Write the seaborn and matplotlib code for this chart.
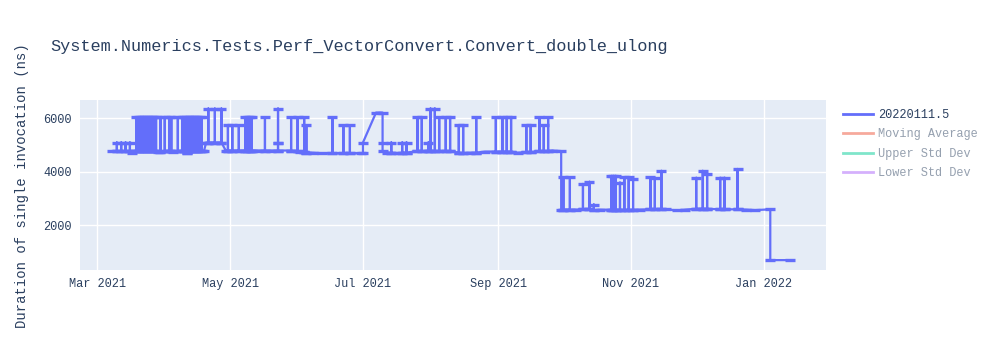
import matplotlib
matplotlib.use("Agg")
import matplotlib.pyplot as plt
import matplotlib.dates as mdates
from matplotlib.lines import Line2D
import pandas as pd
import seaborn as sns

title = "System.Numerics.Tests.Perf_VectorConvert.Convert_double_ulong"
y_label = "Duration of single invocation (ns)"
legend_labels = ["20220111.5", "Moving Average", "Upper Std Dev", "Lower Std Dev"]
legend_colors = ["#636efa", "#EF553B", "#00cc96", "#ab63fa"]
y_ticks = [2000, 4000, 6000]

run_dates = [
    "2021-03-08",
    "2021-03-10", "2021-03-10", "2021-03-10",
    "2021-03-12", "2021-03-12", "2021-03-12",
    "2021-03-14", "2021-03-14", "2021-03-14",
    "2021-03-16", "2021-03-16", "2021-03-16",
    "2021-03-17", "2021-03-18",
    "2021-03-19", "2021-03-19", "2021-03-19",
    "2021-03-20", "2021-03-20", "2021-03-20",
    "2021-03-21", "2021-03-21", "2021-03-21",
    "2021-03-22", "2021-03-22", "2021-03-22",
    "2021-03-23", "2021-03-23", "2021-03-23",
    "2021-03-24", "2021-03-24", "2021-03-24",
    "2021-03-25", "2021-03-25", "2021-03-25",
    "2021-03-26", "2021-03-26", "2021-03-26",
    "2021-03-27", "2021-03-27", "2021-03-27",
    "2021-03-28", "2021-03-28", "2021-03-28",
    "2021-03-29",
    "2021-03-30", "2021-03-30", "2021-03-30",
    "2021-04-01", "2021-04-01", "2021-04-01",
    "2021-04-03", "2021-04-03", "2021-04-03",
    "2021-04-04", "2021-04-04", "2021-04-04",
    "2021-04-05",
    "2021-04-07", "2021-04-07", "2021-04-07",
    "2021-04-09", "2021-04-09", "2021-04-09",
    "2021-04-10", "2021-04-10", "2021-04-10",
    "2021-04-11", "2021-04-11", "2021-04-11",
    "2021-04-12", "2021-04-12", "2021-04-12",
    "2021-04-13", "2021-04-13", "2021-04-13",
    "2021-04-14", "2021-04-14", "2021-04-14",
    "2021-04-15", "2021-04-15", "2021-04-15",
    "2021-04-16", "2021-04-16", "2021-04-16",
    "2021-04-17", "2021-04-17", "2021-04-17",
    "2021-04-18", "2021-04-18", "2021-04-18",
    "2021-04-19", "2021-04-20",
    "2021-04-21", "2021-04-21", "2021-04-21",
    "2021-04-24", "2021-04-24", "2021-04-24",
    "2021-04-27", "2021-04-27", "2021-04-27",
    "2021-04-29",
    "2021-04-30", "2021-04-30", "2021-04-30",
    "2021-05-02", "2021-05-02", "2021-05-02",
    "2021-05-05", "2021-05-05", "2021-05-05",
    "2021-05-08", "2021-05-08", "2021-05-08",
    "2021-05-09", "2021-05-09", "2021-05-09",
    "2021-05-10", "2021-05-10", "2021-05-10",
    "2021-05-11", "2021-05-11", "2021-05-11",
    "2021-05-14",
    "2021-05-17", "2021-05-17", "2021-05-17",
    "2021-05-20",
    "2021-05-23", "2021-05-23", "2021-05-23", "2021-05-23", "2021-05-23",
    "2021-05-29", "2021-05-29", "2021-05-29",
    "2021-06-01", "2021-06-01", "2021-06-01",
    "2021-06-02",
    "2021-06-04", "2021-06-04", "2021-06-04",
    "2021-06-05", "2021-06-05", "2021-06-05",
    "2021-06-08", "2021-06-12",
    "2021-06-17", "2021-06-17", "2021-06-17",
    "2021-06-22", "2021-06-22", "2021-06-22",
    "2021-06-25", "2021-06-25", "2021-06-25",
    "2021-06-30", "2021-07-01", "2021-07-01", "2021-07-07", "2021-07-10",
    "2021-07-10", "2021-07-10", "2021-07-12",
    "2021-07-14", "2021-07-14", "2021-07-14",
    "2021-07-17",
    "2021-07-19", "2021-07-19", "2021-07-19",
    "2021-07-21", "2021-07-21", "2021-07-21",
    "2021-07-26", "2021-07-26", "2021-07-26",
    "2021-07-28", "2021-07-28", "2021-07-28",
    "2021-07-31", "2021-07-31", "2021-07-31",
    "2021-08-01", "2021-08-01", "2021-08-01",
    "2021-08-03", "2021-08-03", "2021-08-03",
    "2021-08-05", "2021-08-05", "2021-08-05",
    "2021-08-08", "2021-08-08", "2021-08-08",
    "2021-08-10", "2021-08-10", "2021-08-10",
    "2021-08-14", "2021-08-14", "2021-08-14",
    "2021-08-16", "2021-08-16", "2021-08-16",
    "2021-08-19",
    "2021-08-22", "2021-08-22", "2021-08-22",
    "2021-08-26",
    "2021-08-31", "2021-08-31", "2021-08-31",
    "2021-09-03", "2021-09-03", "2021-09-03",
    "2021-09-05", "2021-09-05", "2021-09-05",
    "2021-09-07", "2021-09-07", "2021-09-07",
    "2021-09-10",
    "2021-09-14", "2021-09-14", "2021-09-14",
    "2021-09-16", "2021-09-16", "2021-09-16",
    "2021-09-20", "2021-09-20", "2021-09-20",
    "2021-09-22", "2021-09-22", "2021-09-22",
    "2021-09-24", "2021-09-24", "2021-09-24",
    "2021-09-26", "2021-09-30", "2021-09-30",
    "2021-10-01", "2021-10-01", "2021-10-01",
    "2021-10-04", "2021-10-04", "2021-10-04",
    "2021-10-07",
    "2021-10-10", "2021-10-10", "2021-10-10",
    "2021-10-13", "2021-10-13", "2021-10-13",
    "2021-10-15", "2021-10-15", "2021-10-15",
    "2021-10-18",
    "2021-10-23", "2021-10-23", "2021-10-23",
    "2021-10-24", "2021-10-24", "2021-10-24",
    "2021-10-25", "2021-10-25", "2021-10-25",
    "2021-10-27", "2021-10-27", "2021-10-27",
    "2021-10-29", "2021-10-29", "2021-10-29",
    "2021-10-31", "2021-10-31", "2021-10-31",
    "2021-11-02", "2021-11-02", "2021-11-02",
    "2021-11-05",
    "2021-11-10", "2021-11-10", "2021-11-10",
    "2021-11-12", "2021-11-12", "2021-11-12",
    "2021-11-15", "2021-11-15", "2021-11-15",
    "2021-11-17", "2021-11-22", "2021-11-26",
    "2021-12-01", "2021-12-01", "2021-12-01",
    "2021-12-04", "2021-12-04", "2021-12-04",
    "2021-12-06", "2021-12-06", "2021-12-06",
    "2021-12-12", "2021-12-12", "2021-12-12",
    "2021-12-14", "2021-12-14", "2021-12-14",
    "2021-12-20", "2021-12-20", "2021-12-20",
    "2021-12-24", "2021-12-28", "2022-01-04", "2022-01-04", "2022-01-13",
]

durations_ns = [
    4780,
    4780, 5100, 4780,
    4780, 5100, 4780,
    4780, 5100, 4780,
    4780, 5100, 4780,
    4700, 4780,
    4780, 6050, 4780,
    4780, 6050, 4780,
    4780, 6050, 4780,
    4780, 6050, 4780,
    4780, 6050, 4780,
    4780, 6050, 4780,
    4780, 6050, 4780,
    4780, 6050, 4780,
    4780, 6050, 4780,
    4780, 6050, 4780,
    4760,
    4760, 6050, 4760,
    4780, 6050, 4780,
    4780, 6050, 4780,
    4780, 6050, 4780,
    4760,
    4780, 6050, 4780,
    4780, 6050, 4780,
    4780, 6050, 4780,
    4720, 6050, 4720,
    4780, 6050, 4780,
    4780, 6050, 4780,
    4780, 6050, 4780,
    4780, 6050, 4780,
    4780, 6050, 4780,
    4780, 6050, 4780,
    4780, 6050, 4780,
    4780, 5100,
    5100, 6370, 5100,
    5100, 6370, 5100,
    5100, 6370, 5100,
    4800,
    4800, 5740, 4800,
    4800, 5740, 4800,
    4800, 5740, 4800,
    4800, 6050, 4800,
    4800, 6050, 4800,
    4800, 6050, 4800,
    4800, 6050, 4800,
    4800,
    4800, 6050, 4800,
    4800,
    4800, 5100, 6370, 5100, 4800,
    4800, 6050, 4800,
    4780, 6050, 4780,
    4750,
    4750, 6050, 4750,
    4720, 5740, 4720,
    4720, 4700,
    4700, 6050, 4700,
    4700, 5740, 4700,
    4700, 5740, 4700,
    4700, 4700, 5100, 6220, 6220,
    5100, 4780, 4720,
    4720, 5100, 4720,
    4700,
    4720, 5100, 4720,
    4720, 5100, 4720,
    4780, 6050, 4780,
    4780, 6050, 4780,
    4780, 5100, 4780,
    4780, 6370, 4780,
    4780, 6370, 4780,
    4780, 6050, 4780,
    4780, 6050, 4780,
    4780, 6050, 4780,
    4720, 5740, 4720,
    4700, 5740, 4700,
    4720,
    4720, 6050, 4720,
    4760,
    4760, 6050, 4760,
    4760, 6050, 4760,
    4760, 6050, 4760,
    4760, 6050, 4760,
    4720,
    4740, 5740, 4740,
    4740, 5740, 4740,
    4780, 6050, 4780,
    4780, 5740, 4780,
    4780, 6050, 4780,
    4800, 4780, 2590,
    2590, 3800, 2590,
    2590, 3800, 2590,
    2590,
    2600, 3550, 2600,
    2600, 3630, 2600,
    2560, 2780, 2560,
    2590,
    2580, 3850, 2580,
    2580, 3850, 2580,
    2580, 3850, 2580,
    2580, 3600, 2580,
    2580, 3800, 2580,
    2580, 3800, 2580,
    2580, 3750, 2580,
    2590,
    2600, 3800, 2600,
    2600, 3780, 2600,
    2600, 4040, 2600,
    2600, 2560, 2590,
    2620, 3780, 2620,
    2620, 4040, 2620,
    2620, 3930, 2620,
    2600, 3780, 2600,
    2600, 3780, 2600,
    2600, 4110, 2600,
    2590, 2570, 2600, 700, 700,
]

df = pd.DataFrame({"date": pd.to_datetime(run_dates), "duration": durations_ns})

text_color = "#2a3f5f"
faded_text = "#95a0af"
font = "Liberation Mono"
plt.rcParams["font.family"] = [font, "DejaVu Sans"]

fig = plt.figure(figsize=(10, 3.5), dpi=100)
ax = fig.add_axes([0.08, 80 / 350, 0.746, 170 / 350])
ax.set_facecolor("#E5ECF6")

sns.lineplot(data=df, x="date", y="duration", ax=ax, sort=False, estimator=None,
             color=legend_colors[0], linewidth=1.6, marker="_", markersize=7,
             markeredgewidth=2.4, markeredgecolor=legend_colors[0],
             markerfacecolor=legend_colors[0], legend=False)

ax.set_xlim(pd.Timestamp("2021-02-21 02:00"), pd.Timestamp("2022-01-29 14:00"))
ax.set_ylim(330, 6690)
ax.set_yticks(y_ticks)
ax.set_yticklabels([str(v) for v in y_ticks])
ax.xaxis.set_major_locator(mdates.MonthLocator(bymonth=[1, 3, 5, 7, 9, 11]))
ax.xaxis.set_major_formatter(mdates.DateFormatter("%b %Y"))
ax.grid(True, color="white", linewidth=1)
ax.set_axisbelow(True)
for s in ax.spines.values():
    s.set_visible(False)
ax.tick_params(axis="both", length=0, labelsize=8.6, labelcolor=text_color)
ax.tick_params(axis="x", pad=6)
ax.tick_params(axis="y", pad=6)
ax.set_xlabel("")
ax.set_ylabel("")

fig.text(0.05, 1 - 46 / 350, title, fontsize=12.2, color=text_color, va="center", ha="left")
fig.text(0.022, 1 - 186 / 350, y_label, fontsize=10, color=text_color, rotation=90,
         va="center", ha="center")

handles = [Line2D([], [], color=legend_colors[0], lw=2)]
for c in legend_colors[1:]:
    handles.append(Line2D([], [], color=c, lw=2, alpha=0.5))
leg = fig.legend(handles, legend_labels, loc="upper left",
                 bbox_to_anchor=(0.843, 1 - 109 / 350), frameon=False,
                 fontsize=8.6, handlelength=2.5, handletextpad=0.4,
                 labelspacing=0.62, borderpad=0, borderaxespad=0)
for i, t in enumerate(leg.get_texts()):
    t.set_color(text_color if i == 0 else faded_text)

fig.savefig("out.png", dpi=100, facecolor="white")
